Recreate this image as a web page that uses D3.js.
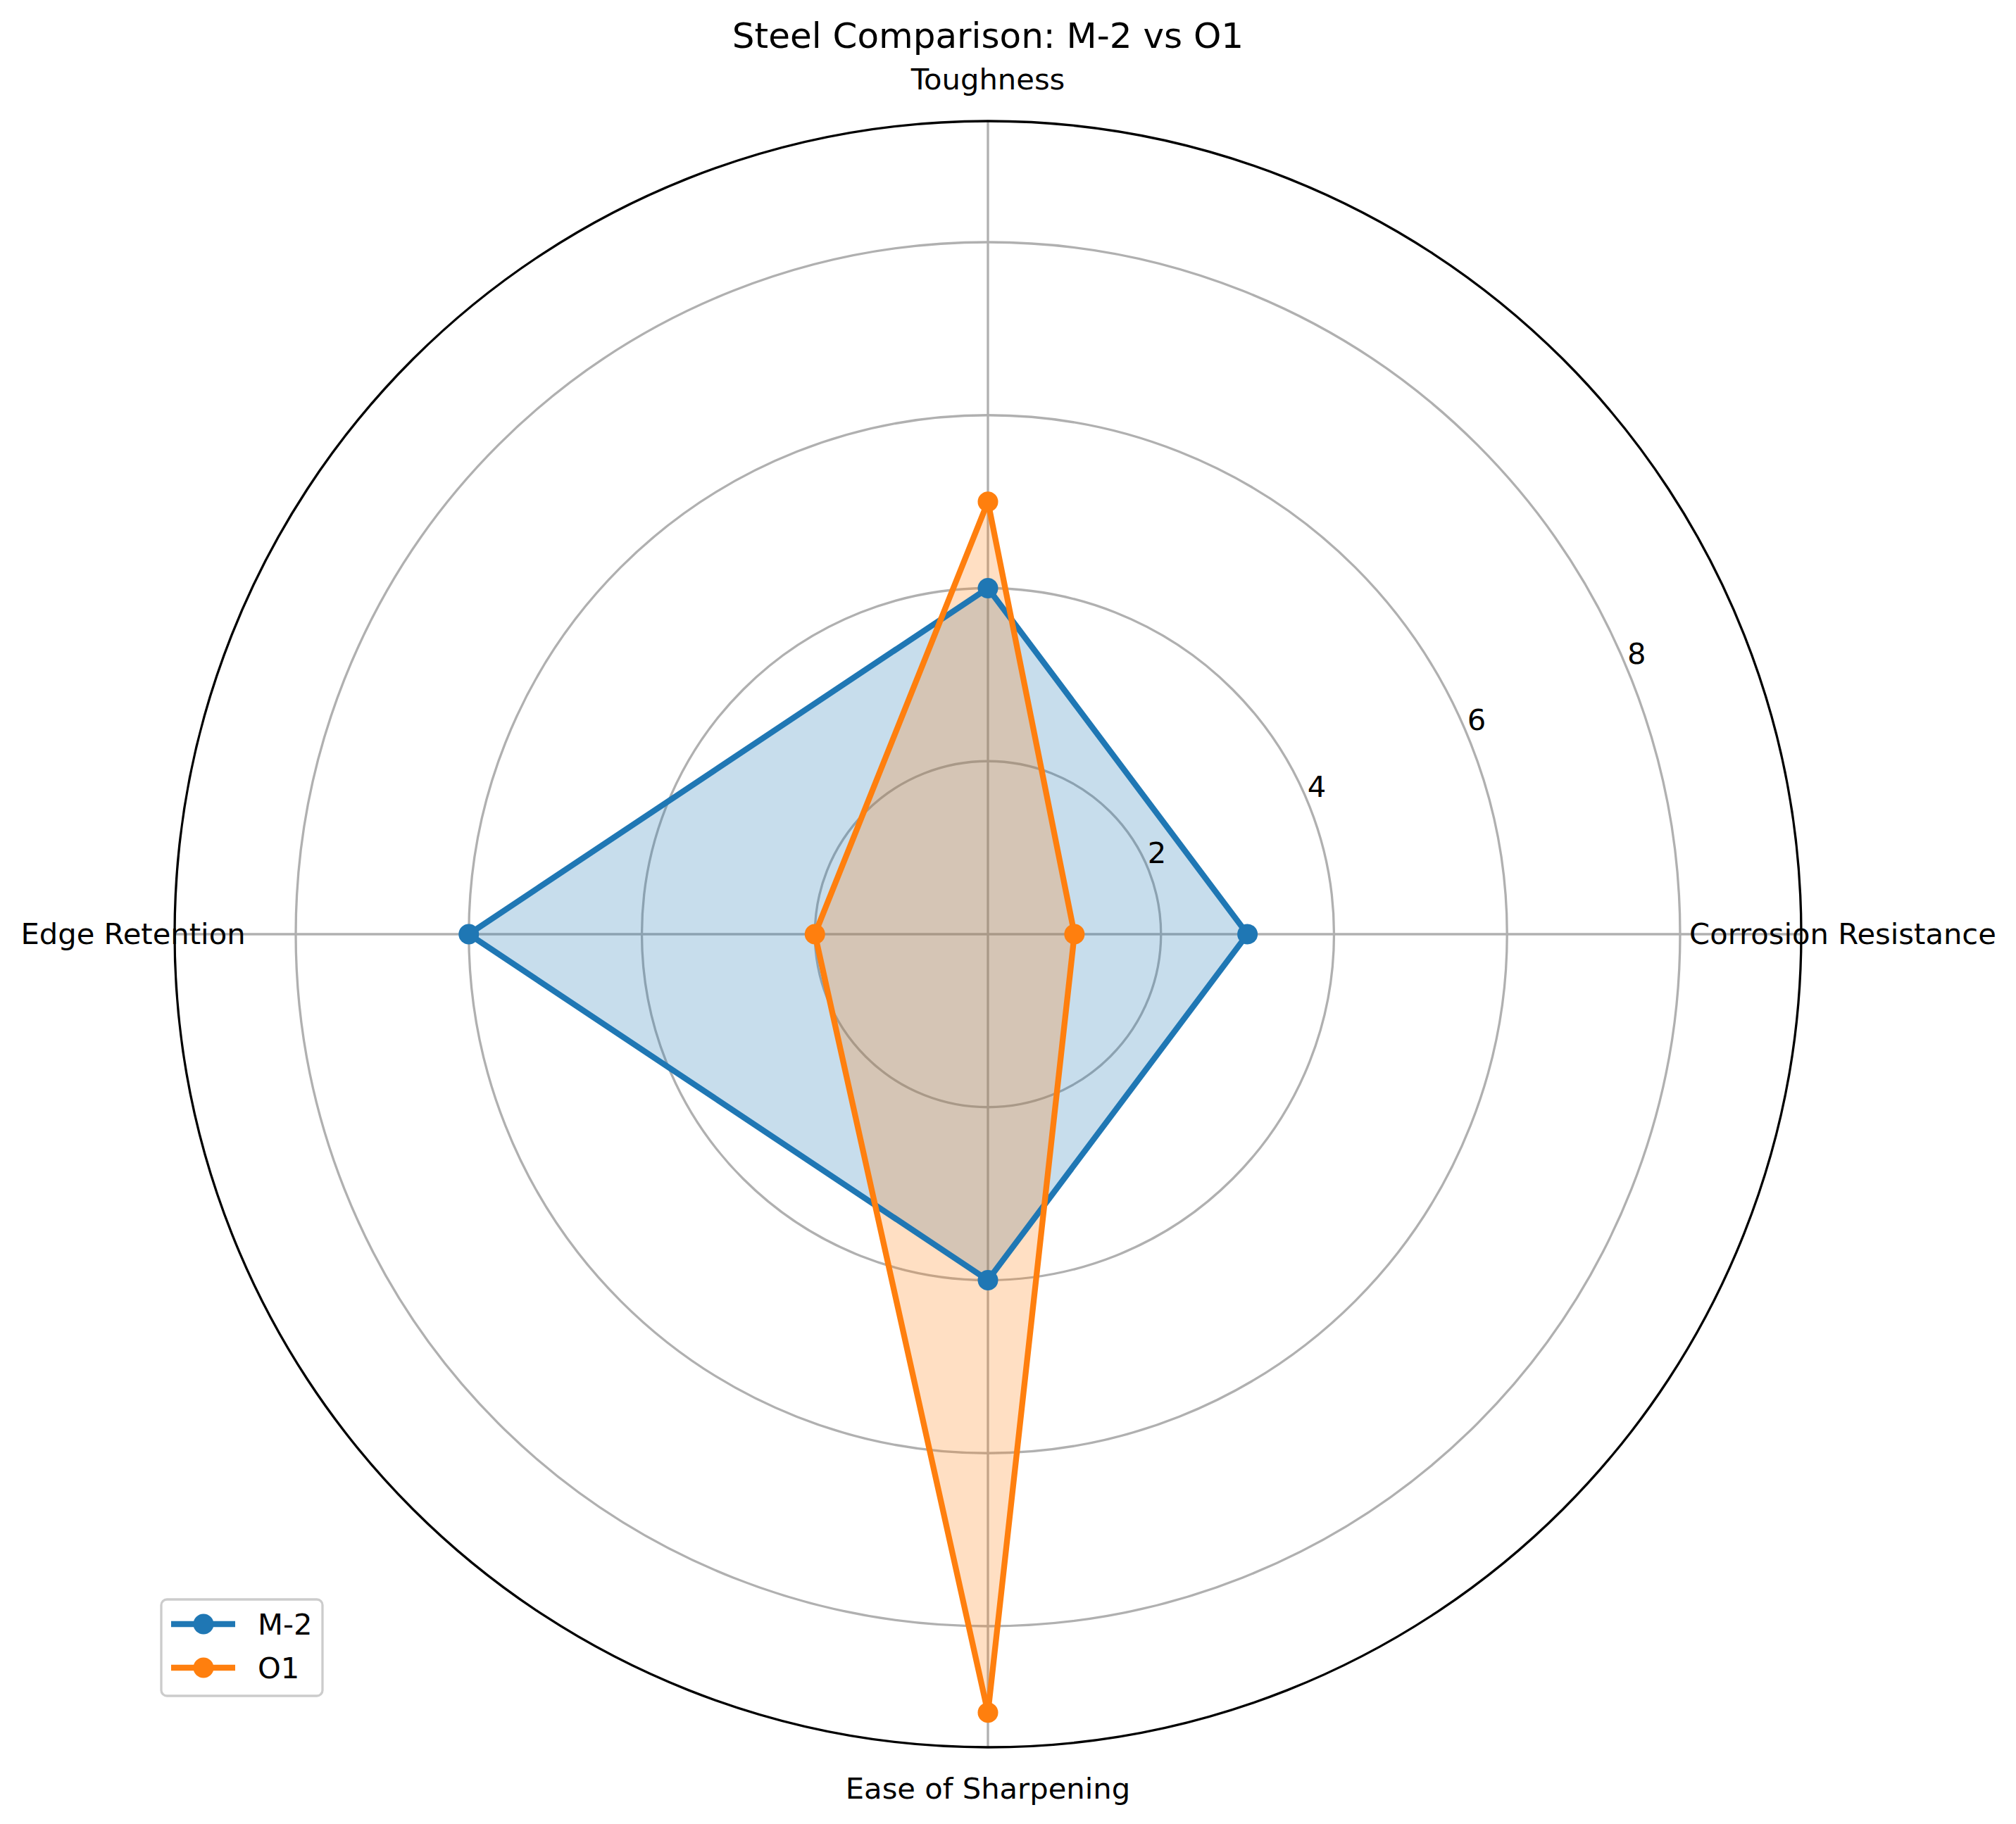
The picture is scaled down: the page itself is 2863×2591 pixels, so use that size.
<!DOCTYPE html>
<html>
<head>
<meta charset="utf-8">
<script src="https://cdn.jsdelivr.net/npm/d3@7"></script>
<style>
  body { margin: 0; background: #fff; }
  text { font-family: "DejaVu Sans", sans-serif; }
</style>
</head>
<body>
<div id="chart"></div>
<script>
// categories go counter-clockwise starting from the right, like matplotlib
var categories = ["Corrosion Resistance", "Toughness", "Edge Retention", "Ease of Sharpening"];
var seriesNames = ["M-2", "O1"];
var m2Values = [3, 4, 6, 4];
var o1Values = [1, 5, 2, 9];
var radialTicks = [2, 4, 6, 8];
var colors = ["#1f77b4", "#ff7f0e"];

var width = 2863, height = 2591;
var cx = 1403, cy = 1327;
var outerR = 1155;
var rMax = 9.4;

var svg = d3.select("#chart").append("svg")
    .attr("width", width)
    .attr("height", height);

var r = d3.scaleLinear().domain([0, rMax]).range([0, outerR]);

// matplotlib theta (ccw from east) -> d3 angle (cw from north)
function angleOf(i) {
    return Math.PI / 2 - i * 2 * Math.PI / categories.length;
}
function px(a, rad) { return cx + rad * Math.sin(a); }
function py(a, rad) { return cy - rad * Math.cos(a); }

var g = svg.append("g");

// radial grid circles
g.selectAll(".rgrid")
    .data(radialTicks)
    .enter().append("circle")
    .attr("cx", cx).attr("cy", cy)
    .attr("r", function(d) { return r(d); })
    .attr("fill", "none")
    .attr("stroke", "#b0b0b0")
    .attr("stroke-width", 3.3);

// angular grid lines
g.selectAll(".agrid")
    .data(categories)
    .enter().append("line")
    .attr("x1", cx).attr("y1", cy)
    .attr("x2", function(d, i) { return px(angleOf(i), outerR); })
    .attr("y2", function(d, i) { return py(angleOf(i), outerR); })
    .attr("stroke", "#b0b0b0")
    .attr("stroke-width", 3.3);

var series = [m2Values, o1Values];

var line = d3.lineRadial()
    .angle(function(d, i) { return angleOf(i); })
    .radius(function(d) { return r(d); })
    .curve(d3.curveLinearClosed);

var plot = g.append("g").attr("transform", "translate(" + cx + "," + cy + ")");

// fills sit under the lines
series.forEach(function(vals, s) {
    plot.append("path")
        .attr("d", line(vals))
        .attr("fill", colors[s])
        .attr("fill-opacity", 0.25)
        .attr("stroke", "none");
});

series.forEach(function(vals, s) {
    plot.append("path")
        .attr("d", line(vals))
        .attr("fill", "none")
        .attr("stroke", colors[s])
        .attr("stroke-width", 8.3)
        .attr("stroke-linejoin", "round");
    plot.selectAll(".pt" + s)
        .data(vals)
        .enter().append("circle")
        .attr("cx", function(d, i) { return r(d) * Math.sin(angleOf(i)); })
        .attr("cy", function(d, i) { return -r(d) * Math.cos(angleOf(i)); })
        .attr("r", 14.5)
        .attr("fill", colors[s]);
});

// outer spine
g.append("circle")
    .attr("cx", cx).attr("cy", cy)
    .attr("r", outerR)
    .attr("fill", "none")
    .attr("stroke", "#000")
    .attr("stroke-width", 3.3);

// category labels
g.selectAll(".clabel")
    .data(categories)
    .enter().append("text")
    .attr("x", function(d, i) { return px(angleOf(i), outerR + 59); })
    .attr("y", function(d, i) { return py(angleOf(i), outerR + 59); })
    .attr("dy", "0.33em")
    .attr("text-anchor", "middle")
    .attr("font-size", 41.7)
    .attr("fill", "#000")
    .text(function(d) { return d; });

// radial tick labels at 22.5 degrees
var rlabA = Math.PI / 2 - 22.5 * Math.PI / 180;
g.selectAll(".rlabel")
    .data(radialTicks)
    .enter().append("text")
    .attr("x", function(d) { return px(rlabA, r(d)) + 13; })
    .attr("y", function(d) { return py(rlabA, r(d)) - 22; })
    .attr("dy", "0.35em")
    .attr("text-anchor", "middle")
    .attr("font-size", 41.7)
    .attr("fill", "#000")
    .text(function(d) { return d; });

// title
svg.append("text")
    .attr("x", cx)
    .attr("y", 68)
    .attr("text-anchor", "middle")
    .attr("font-size", 50)
    .attr("fill", "#000")
    .text("Steel Comparison: M-2 vs O1");

// legend
var legend = svg.append("g").attr("transform", "translate(229,2272)");
legend.append("rect")
    .attr("width", 229).attr("height", 137)
    .attr("rx", 8).attr("ry", 8)
    .attr("fill", "#fff").attr("fill-opacity", 0.8)
    .attr("stroke", "#cccccc").attr("stroke-width", 3.3);

var item = legend.selectAll(".item")
    .data(seriesNames)
    .enter().append("g")
    .attr("transform", function(d, i) { return "translate(0," + (35 + i * 62) + ")"; });
item.append("line")
    .attr("x1", 14).attr("x2", 105)
    .attr("stroke", function(d, i) { return colors[i]; })
    .attr("stroke-width", 8.3);
item.append("circle")
    .attr("cx", 60).attr("r", 14.5)
    .attr("fill", function(d, i) { return colors[i]; });
item.append("text")
    .attr("x", 137)
    .attr("dy", "0.36em")
    .attr("font-size", 41.7)
    .attr("fill", "#000")
    .text(function(d) { return d; });
</script>
</body>
</html>
